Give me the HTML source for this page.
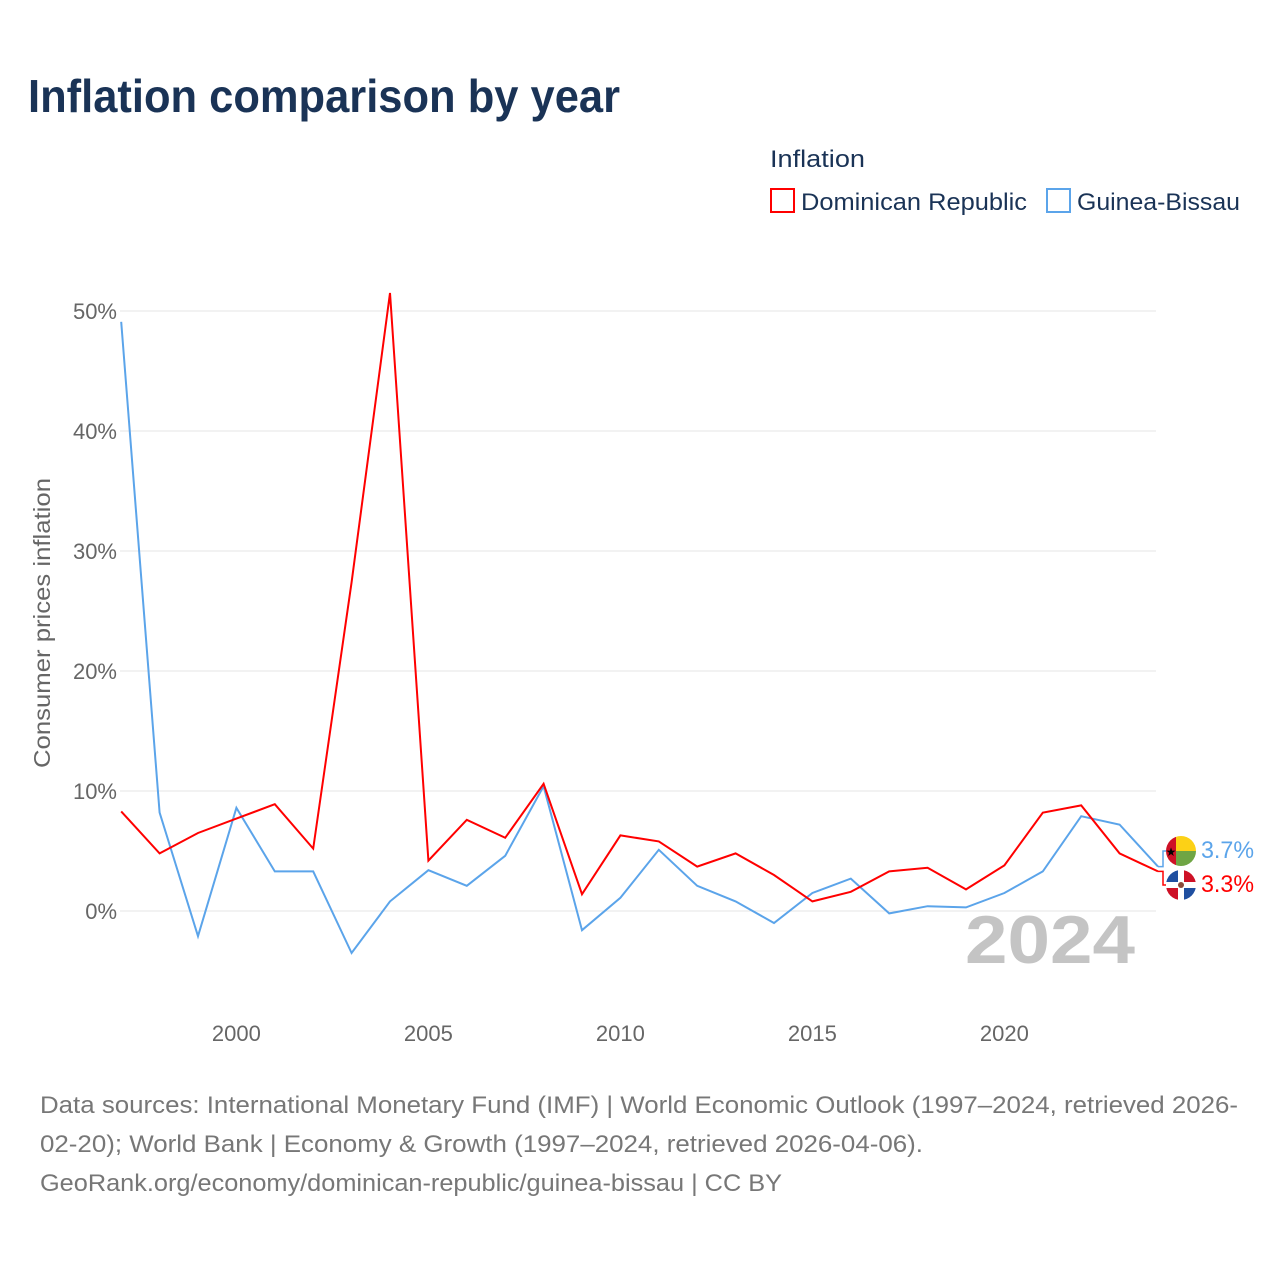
<!DOCTYPE html>
<html><head><meta charset="utf-8"><style>
body{margin:0;background:#fff;font-family:"Liberation Sans",sans-serif;}
#wrap{position:relative;width:1280px;height:1280px;overflow:hidden;}
</style></head><body>
<div id="wrap">
<svg id="chart" width="1280" height="1280" xmlns="http://www.w3.org/2000/svg">
<text x="28" y="112" font-size="46" font-weight="bold" fill="#1a3356" textLength="592" lengthAdjust="spacingAndGlyphs">Inflation comparison by year</text>
<text x="770" y="167" font-size="24" fill="#1a3356" textLength="95" lengthAdjust="spacingAndGlyphs">Inflation</text>
<g><rect x="771" y="189" width="23" height="23" fill="none" stroke="#ff0000" stroke-width="2"/><text x="801" y="210" font-size="24" fill="#1a3356" textLength="226" lengthAdjust="spacingAndGlyphs">Dominican Republic</text></g>
<g><rect x="1047" y="189" width="23" height="23" fill="none" stroke="#5ba4ea" stroke-width="2"/><text x="1077" y="210" font-size="24" fill="#1a3356" textLength="163" lengthAdjust="spacingAndGlyphs">Guinea-Bissau</text></g>
<text transform="translate(50,623) rotate(-90)" text-anchor="middle" font-size="23" fill="#666" textLength="290" lengthAdjust="spacingAndGlyphs">Consumer prices inflation</text>
<g id="grid"></g><g id="xt"></g>
<text x="1135" y="963" text-anchor="end" font-size="68" font-weight="bold" fill="#c4c4c4" textLength="170" lengthAdjust="spacingAndGlyphs">2024</text>
<g id="lines"></g>
<g>
<clipPath id="c1"><circle cx="1181" cy="851" r="15"/></clipPath>
<g clip-path="url(#c1)"><rect x="1166" y="836" width="10" height="30" fill="#ce1126"/><rect x="1176" y="836" width="20" height="15" fill="#fcd116"/><rect x="1176" y="851" width="20" height="15" fill="#6fa544"/></g>
<text x="1171" y="856" font-size="12" text-anchor="middle">★</text></g>
<g>
<clipPath id="c2"><circle cx="1181" cy="885" r="15"/></clipPath>
<g clip-path="url(#c2)"><rect x="1166" y="870" width="30" height="30" fill="#fff"/><rect x="1166" y="870" width="12" height="12" fill="#1f4fa0"/><rect x="1184" y="870" width="12" height="12" fill="#ce1126"/><rect x="1166" y="888" width="12" height="12" fill="#ce1126"/><rect x="1184" y="888" width="12" height="12" fill="#1f4fa0"/><circle cx="1181" cy="885" r="3" fill="#8a4a3a"/></g></g>
<text x="1201" y="858" font-size="24" fill="#5ba4ea" textLength="53" lengthAdjust="spacingAndGlyphs">3.7%</text>
<text x="1201" y="892" font-size="24" fill="#ff0000" textLength="53" lengthAdjust="spacingAndGlyphs">3.3%</text>
<g font-size="24" fill="#777">
<text x="40" y="1113" textLength="1198" lengthAdjust="spacingAndGlyphs">Data sources: International Monetary Fund (IMF) | World Economic Outlook (1997–2024, retrieved 2026-</text>
<text x="40" y="1152" textLength="883" lengthAdjust="spacingAndGlyphs">02-20); World Bank | Economy &amp; Growth (1997–2024, retrieved 2026-04-06).</text>
<text x="40" y="1191" textLength="742" lengthAdjust="spacingAndGlyphs">GeoRank.org/economy/dominican-republic/guinea-bissau | CC BY</text></g>
</svg></div>
<script>
const years=[1997,1998,1999,2000,2001,2002,2003,2004,2005,2006,2007,2008,2009,2010,2011,2012,2013,2014,2015,2016,2017,2018,2019,2020,2021,2022,2023,2024];
const domRep=[8.3,4.8,6.5,7.7,8.9,5.2,27.4,51.5,4.2,7.6,6.1,10.6,1.4,6.3,5.8,3.7,4.8,3.0,0.8,1.6,3.3,3.6,1.8,3.8,8.2,8.8,4.8,3.3];
const guineaBissau=[49.1,8.2,-2.1,8.6,3.3,3.3,-3.5,0.8,3.4,2.1,4.6,10.4,-1.6,1.1,5.1,2.1,0.8,-1.0,1.5,2.7,-0.2,0.4,0.3,1.5,3.3,7.9,7.2,3.7];
const yTicks=[0,10,20,30,40,50];
const xTicks=[2000,2005,2010,2015,2020];
const NS="http://www.w3.org/2000/svg";
const xs=y=>121.2+(y-1997)*38.4;
const ys=v=>911-v*12;
const grid=document.getElementById('grid');
yTicks.forEach(t=>{
 const l=document.createElementNS(NS,'line');
 l.setAttribute('x1',120);l.setAttribute('x2',1156);l.setAttribute('y1',ys(t));l.setAttribute('y2',ys(t));
 l.setAttribute('stroke','#e6e6e6');
 
 
 grid.appendChild(l);
 const tx=document.createElementNS(NS,'text');
 tx.setAttribute('x',117);tx.setAttribute('y',ys(t)+8);tx.setAttribute('text-anchor','end');
 tx.setAttribute('font-size','22');tx.setAttribute('fill','#666');tx.textContent=t+'%';
 
 
 grid.appendChild(tx);
});
const xt=document.getElementById('xt');
xTicks.forEach(t=>{
 const tx=document.createElementNS(NS,'text');
 tx.setAttribute('x',xs(t));tx.setAttribute('y',1041);tx.setAttribute('text-anchor','middle');
 tx.setAttribute('font-size','22');tx.setAttribute('fill','#666');tx.textContent=t;
 
 
 xt.appendChild(tx);
});
const lines=document.getElementById('lines');
function draw(vals,color,name){
 const p=document.createElementNS(NS,'polyline');
 p.setAttribute('points',vals.map((v,i)=>xs(years[i])+','+ys(v)).join(' '));
 p.setAttribute('fill','none');p.setAttribute('stroke',color);p.setAttribute('stroke-width','2');
 
 
 lines.appendChild(p);
}
draw(guineaBissau,'#5ba4ea','line-guinea-bissau');
draw(domRep,'#ff0000','line-dominican-republic');
function conn(v,ly,color){
 const p=document.createElementNS(NS,'polyline');
 const x=xs(2024);
 p.setAttribute('points',x+','+ys(v)+' '+(x+5)+','+ys(v)+' '+(x+5)+','+ly+' '+(x+8)+','+ly);
 p.setAttribute('fill','none');p.setAttribute('stroke',color);p.setAttribute('stroke-width','1.5');
 
 
 lines.appendChild(p);
}
conn(guineaBissau[guineaBissau.length-1],851,'#5ba4ea');
conn(domRep[domRep.length-1],885,'#ff0000');
</script>
</body></html>
